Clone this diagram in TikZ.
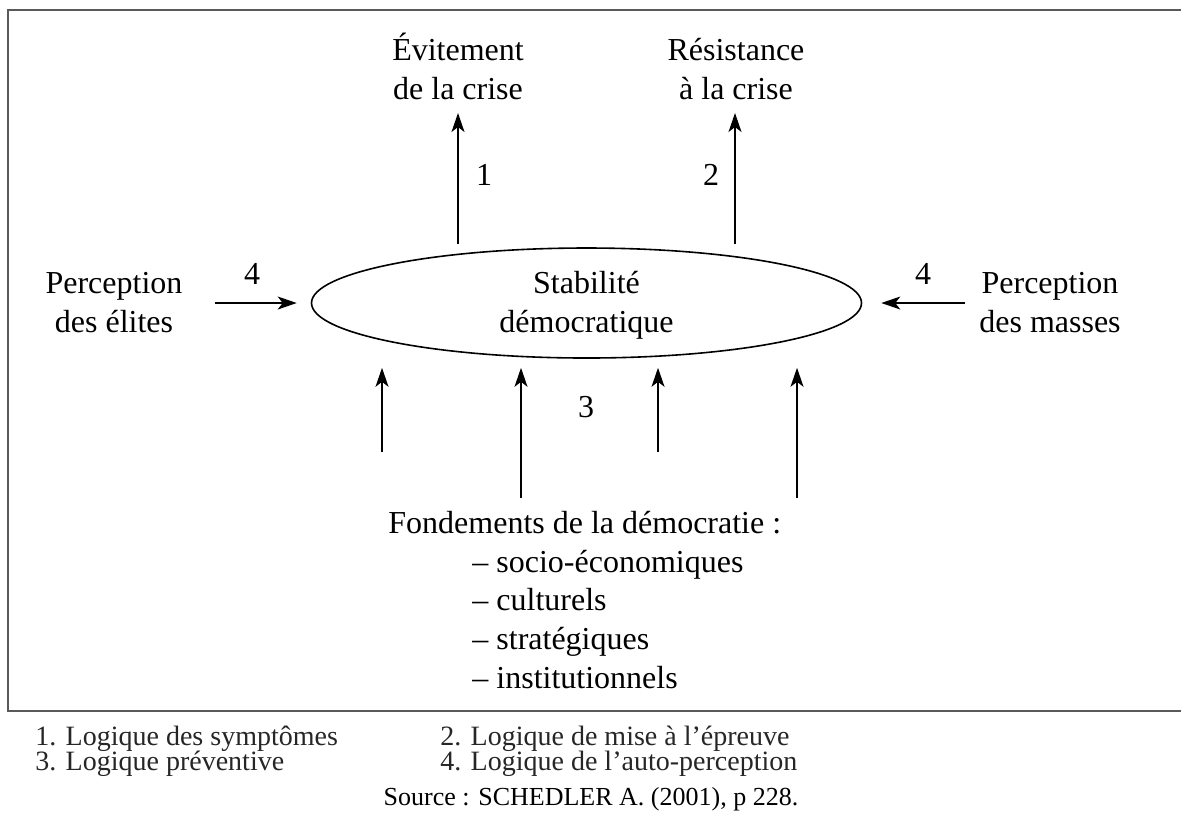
\documentclass[tikz,border=0pt]{standalone}
\usepackage{fontspec}
\setmainfont{Liberation Serif}
\usetikzlibrary{arrows.meta,calc,shapes.geometric}
\begin{document}
\begin{tikzpicture}[x=0.5pt,y=-0.5pt,
  lbl/.style={inner sep=0pt, anchor=base, font=\fontsize{16}{19.5}\selectfont},
  lblw/.style={inner sep=0pt, anchor=base west, font=\fontsize{16}{19.5}\selectfont},
  num/.style={inner sep=0pt, anchor=center, font=\fontsize{16}{19.5}\selectfont},
  leg/.style={inner sep=0pt, anchor=base west, font=\fontsize{14}{17}\selectfont, text=black!85},
  arr/.style={line width=0.7pt, -{Stealth[length=9.5pt,width=6.5pt,inset=2.5pt]}},
  frame/.style={line width=1pt, draw=black!65},
  oval/.style={draw, ellipse, line width=0.8pt, minimum width=275pt, minimum height=55pt, inner sep=0pt},
]
\useasboundingbox (0,0) rectangle (1181,827);
% frame (right side lies outside the picture)
\draw[frame] (1200,10) -- (8,10) -- (8,711) -- (1200,711);

% central ellipse
\node[oval] (stab) at (586.5,303) {};
\node[lbl] (s1) at (586.5,293) {Stabilité};
\node[lbl] (s2) at (586.5,332) {démocratique};

% top targets
\node[lbl] (ev1) at (458,60) {Évitement};
\node[lbl] (ev2) at (458,99) {de la crise};
\node[lbl] (re1) at (736,60) {Résistance};
\node[lbl] (re2) at (736,99) {à la crise};

% side sources
\node[lbl] (pe1) at (114,293) {Perception};
\node[lbl] (pe2) at (114,332) {des élites};
\node[lbl] (pm1) at (1050,293) {Perception};
\node[lbl] (pm2) at (1050,332) {des masses};

% foundations
\node[lblw] (fd) at (388,533) {Fondements de la démocratie :};
\node[lblw] (f1) at (472,572) {– socio-économiques};
\node[lblw] (f2) at (472,610) {– culturels};
\node[lblw] (f3) at (472,649) {– stratégiques};
\node[lblw] (f4) at (472,688) {– institutionnels};

% helper coordinates
\coordinate (top) at ($(stab.north)+(0,-3)$);
\coordinate (tip) at ($(stab.south)+(0,9)$);
\coordinate (la) at (215,303);
\coordinate (ra) at (965,303);
\coordinate (b1) at (382,452);
\coordinate (b2) at (521,498);
\coordinate (b3) at (658,452);
\coordinate (b4) at (797,498);

% arrows
\draw[arr] (ev2.base |- top) -- ($(ev2.base)+(0,14)$);
\draw[arr] ($(re2.base |- top)+(-1,0)$) -- ($(re2.base)+(-1,14)$);
\draw[arr] (la) -- ($(stab.west)+(-14,0)$);
\draw[arr] (ra) -- ($(stab.east)+(19,0)$);
\draw[arr] (b1) -- (b1 |- tip);
\draw[arr] (b2) -- (b2 |- tip);
\draw[arr] (b3) -- (b3 |- tip);
\draw[arr] (b4) -- (b4 |- tip);

% arrow labels
\node[num] (n1) at (484,175) {1};
\node[num] (n2) at (711,175) {2};
\node[num] (n4a) at (252,274) {4};
\node[num] (n4b) at (923,274) {4};
\node[num] (n3) at (586,407) {3};

% legend
\node[leg] (l1) at (35,745) {1. Logique des symptômes};
\node[leg] (l3) at (35,770) {3. Logique préventive};
\node[leg] (l2) at (440,745) {2. Logique de mise à l’épreuve};
\node[leg] (l4) at (440,770) {4. Logique de l’auto-perception};
\node[inner sep=0pt, anchor=base, font=\fontsize{13}{16}\selectfont] (src) at (591,805) {Source : SCHEDLER A. (2001), p 228.};
\end{tikzpicture}
\end{document}
